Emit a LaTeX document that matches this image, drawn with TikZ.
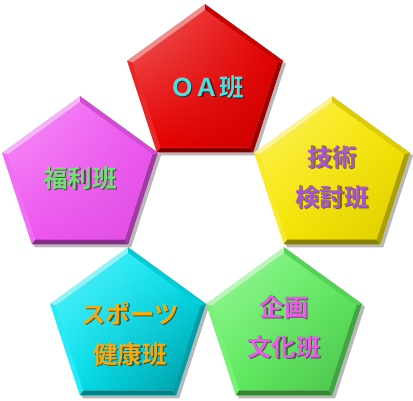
\documentclass[tikz,border=0pt]{standalone}
\usepackage{fontspec}
\usetikzlibrary{shadings}
\newfontfamily\jpfont{Noto Sans CJK JP}[BoldFont={Noto Sans CJK JP Bold}]
\definecolor{cRed}{RGB}{232,0,0}
\definecolor{cMag}{RGB}{240,85,242}
\definecolor{cYel}{RGB}{250,232,0}
\definecolor{cCya}{RGB}{0,232,245}
\definecolor{cGrn}{RGB}{95,240,95}
\definecolor{tCya}{RGB}{70,225,225}
\definecolor{tPur}{RGB}{170,85,215}
\definecolor{tGrn}{RGB}{110,225,110}
\definecolor{tOra}{RGB}{245,170,15}
\definecolor{tPnk}{RGB}{235,90,235}
\newcommand\pentbox[3]{%
\begin{scope}[shift={#1}]
 \fill[black,opacity=.28,shift={(3,3)}] (90:82pt) -- (162:82pt) -- (234:82pt) -- (306:82pt) -- (18:82pt) -- cycle;
 \fill[#2!45!white] (90:82pt) -- (162:82pt) -- (162:76pt) -- (90:76pt) -- cycle;
 \fill[#2!85!white] (162:82pt) -- (234:82pt) -- (234:76pt) -- (162:76pt) -- cycle;
 \fill[#2!55!black] (234:82pt) -- (306:82pt) -- (306:76pt) -- (234:76pt) -- cycle;
 \fill[#2!68!black] (306:82pt) -- (18:82pt) -- (18:76pt) -- (306:76pt) -- cycle;
 \fill[#2!88!black] (18:82pt) -- (90:82pt) -- (90:76pt) -- (18:76pt) -- cycle;
 \shade[upper left=#2!62!white, upper right=#2, lower left=#2, lower right=#2!#3!black]
   (90:76pt) -- (162:76pt) -- (234:76pt) -- (306:76pt) -- (18:76pt) -- cycle;
 \draw[white,opacity=.55,line width=1.2pt,line cap=round] (97:79pt) -- (155:79pt);
\end{scope}}
\tikzset{
 lbl/.style={font=\jpfont\bfseries\fontsize{24.5}{40}\selectfont, align=center, inner sep=0pt},
 shd/.style={lbl, text=black, opacity=.5}
}
\begin{document}
\begin{tikzpicture}[x=1pt,y=-1pt]
\useasboundingbox (0,0) rectangle (413,400);
\pentbox{(205,86)}{cRed}{88}
\pentbox{(80,178)}{cMag}{92}
\pentbox{(332,178)}{cYel}{88}
\pentbox{(128,329)}{cCya}{65}
\pentbox{(284,329)}{cGrn}{80}
% labels with shadows
\node[shd] (s1) at (208.5,88.5) {ＯＡ班};
\node[lbl,text=tCya] (t1) at (207,87) {ＯＡ班};
\node[shd] (s2) at (81.5,179.5) {福利班};
\node[lbl,text=tGrn] (t2) at (80,178) {福利班};
\node[shd] (s3) at (333.5,178.5) {技術\\検討班};
\node[lbl,text=tPur] (t3) at (332,177) {技術\\検討班};
\node[shd] (s4) at (131.5,335.5) {スポーツ\\健康班};
\node[lbl,text=tOra] (t4) at (130,334) {スポーツ\\健康班};
\node[shd] (s5) at (285.5,328.5) {企画\\文化班};
\node[lbl,text=tPnk] (t5) at (284,327) {企画\\文化班};
\end{tikzpicture}
\end{document}
